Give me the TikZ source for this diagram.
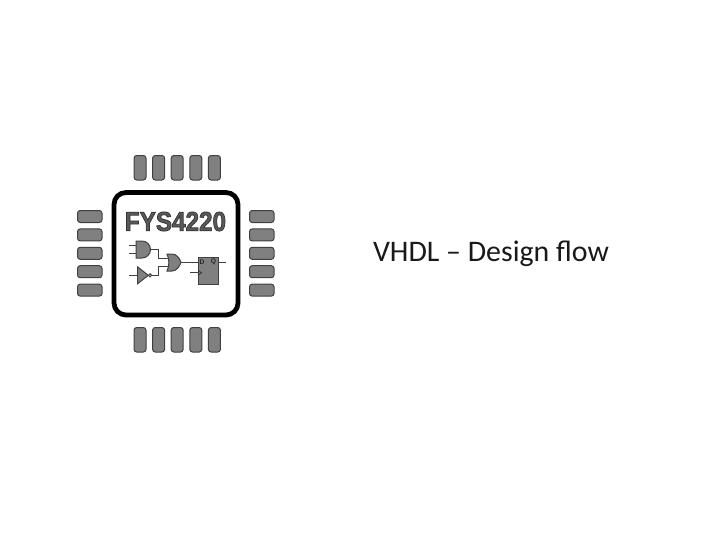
\documentclass[tikz,border=0pt]{standalone}
\usepackage{fontspec}
\setmainfont{Carlito}
\newfontfamily\chipfont{Liberation Sans}
\usetikzlibrary{positioning}
\definecolor{pingray}{gray}{0.5}
\definecolor{chipline}{gray}{0.25}
\tikzset{
	pin/.style={draw=chipline, fill=pingray, line width=0.75pt, rounded corners=2pt},
	gate/.style={draw=chipline, fill=pingray, line width=0.75pt},
	wire/.style={draw=chipline, line width=0.75pt},
}
\begin{document}
\begin{tikzpicture}[x=0.75pt,y=-0.75pt]
	\useasboundingbox (0,0) rectangle (720,540);
	
	% pins
	\foreach \i in {0,...,4}{
		\draw[pin] (134+18.6*\i,155.5) rectangle ++(12,24.5);
		\draw[pin] (134+18.6*\i,327.5) rectangle ++(12,24.5);
		\draw[pin] (77.5,210.5+18.4*\i) rectangle ++(24.5,12);
		\draw[pin] (249.5,210.5+18.4*\i) rectangle ++(24.5,12);
	}
	
	% package
	\draw[line width=3.6pt, rounded corners=9pt] (114,192.5) rectangle (238,315);
	
	\node[font=\chipfont\bfseries\fontsize{18.2}{20}\selectfont, text=chipline, yscale=1.12, transform shape] (chipname) at (175.5,221.5) {\special{pdf:code 2 Tr 0.5 w 0.35 g 0.2 G}FYS4220\special{pdf:code 0 Tr}};
	
	% first gate
	\coordinate (andA) at (136,241);
	\draw[gate] (andA) -- (142,241) arc (-90:90:8.5) -- (136,258) -- cycle;
	\coordinate (andAout) at (150.5,249.5);
	\draw[wire] (129,245.3) -- (136,245.3);
	\draw[wire] (129,253.7) -- (136,253.7);
	
	% inverter
	\coordinate (invIn) at (137.5,275.3);
	\draw[gate] (137.5,266.8) -- (148.3,275.3) -- (137.5,283.8) -- cycle;
	\draw[wire, fill=white] (150,275.3) circle (1.6);
	\coordinate (invOut) at (151.6,275.3);
	\draw[wire] (129,275.3) -- (invIn);
	
	% second gate
	\coordinate (orA) at (168.3,258.2);
	\coordinate (orB) at (168.3,266.2);
	\coordinate (orOut) at (181,262.3);
	\draw[wire] (andAout) -- (158.5,249.5) -- (158.5,258.2) -- (orA);
	\draw[wire] (invOut) -- (158.5,275.3) -- (158.5,266.2) -- (orB);
	\draw[gate] (167,254) -- (172,254) .. controls (176.5,254) and (179.5,258) .. (181,262.3) .. controls (179.5,266.5) and (176.5,271) .. (172,271) -- (167,271) .. controls (169.5,266) and (169.5,259) .. (167,254) -- cycle;
	
	% flip flop
	\draw[gate] (198,257) rectangle (218.5,284.5);
	\coordinate (ffD) at (198,262.3);
	\coordinate (ffClk) at (198,272.8);
	\coordinate (ffQ) at (218.5,262.3);
	\draw[wire] (orOut) -- (ffD);
	\draw[wire] (190,272.8) -- (ffClk);
	\draw[wire] (ffQ) -- (226,262.3);
	\draw[wire] (198,270.3) -- (201.5,272.8) -- (198,275.3);
	\node[font=\chipfont\bfseries\fontsize{5}{6}\selectfont, text=black!85] (ffDlabel) at (202,262) {D};
	\node[font=\chipfont\bfseries\fontsize{5}{6}\selectfont, text=black!85] (ffQlabel) at (213.5,262) {Q};
	
	\node[font=\fontsize{22.4}{26}\selectfont, text=black!90] (title) at (491,254) {VHDL -- Design flow};
\end{tikzpicture}
\end{document}
